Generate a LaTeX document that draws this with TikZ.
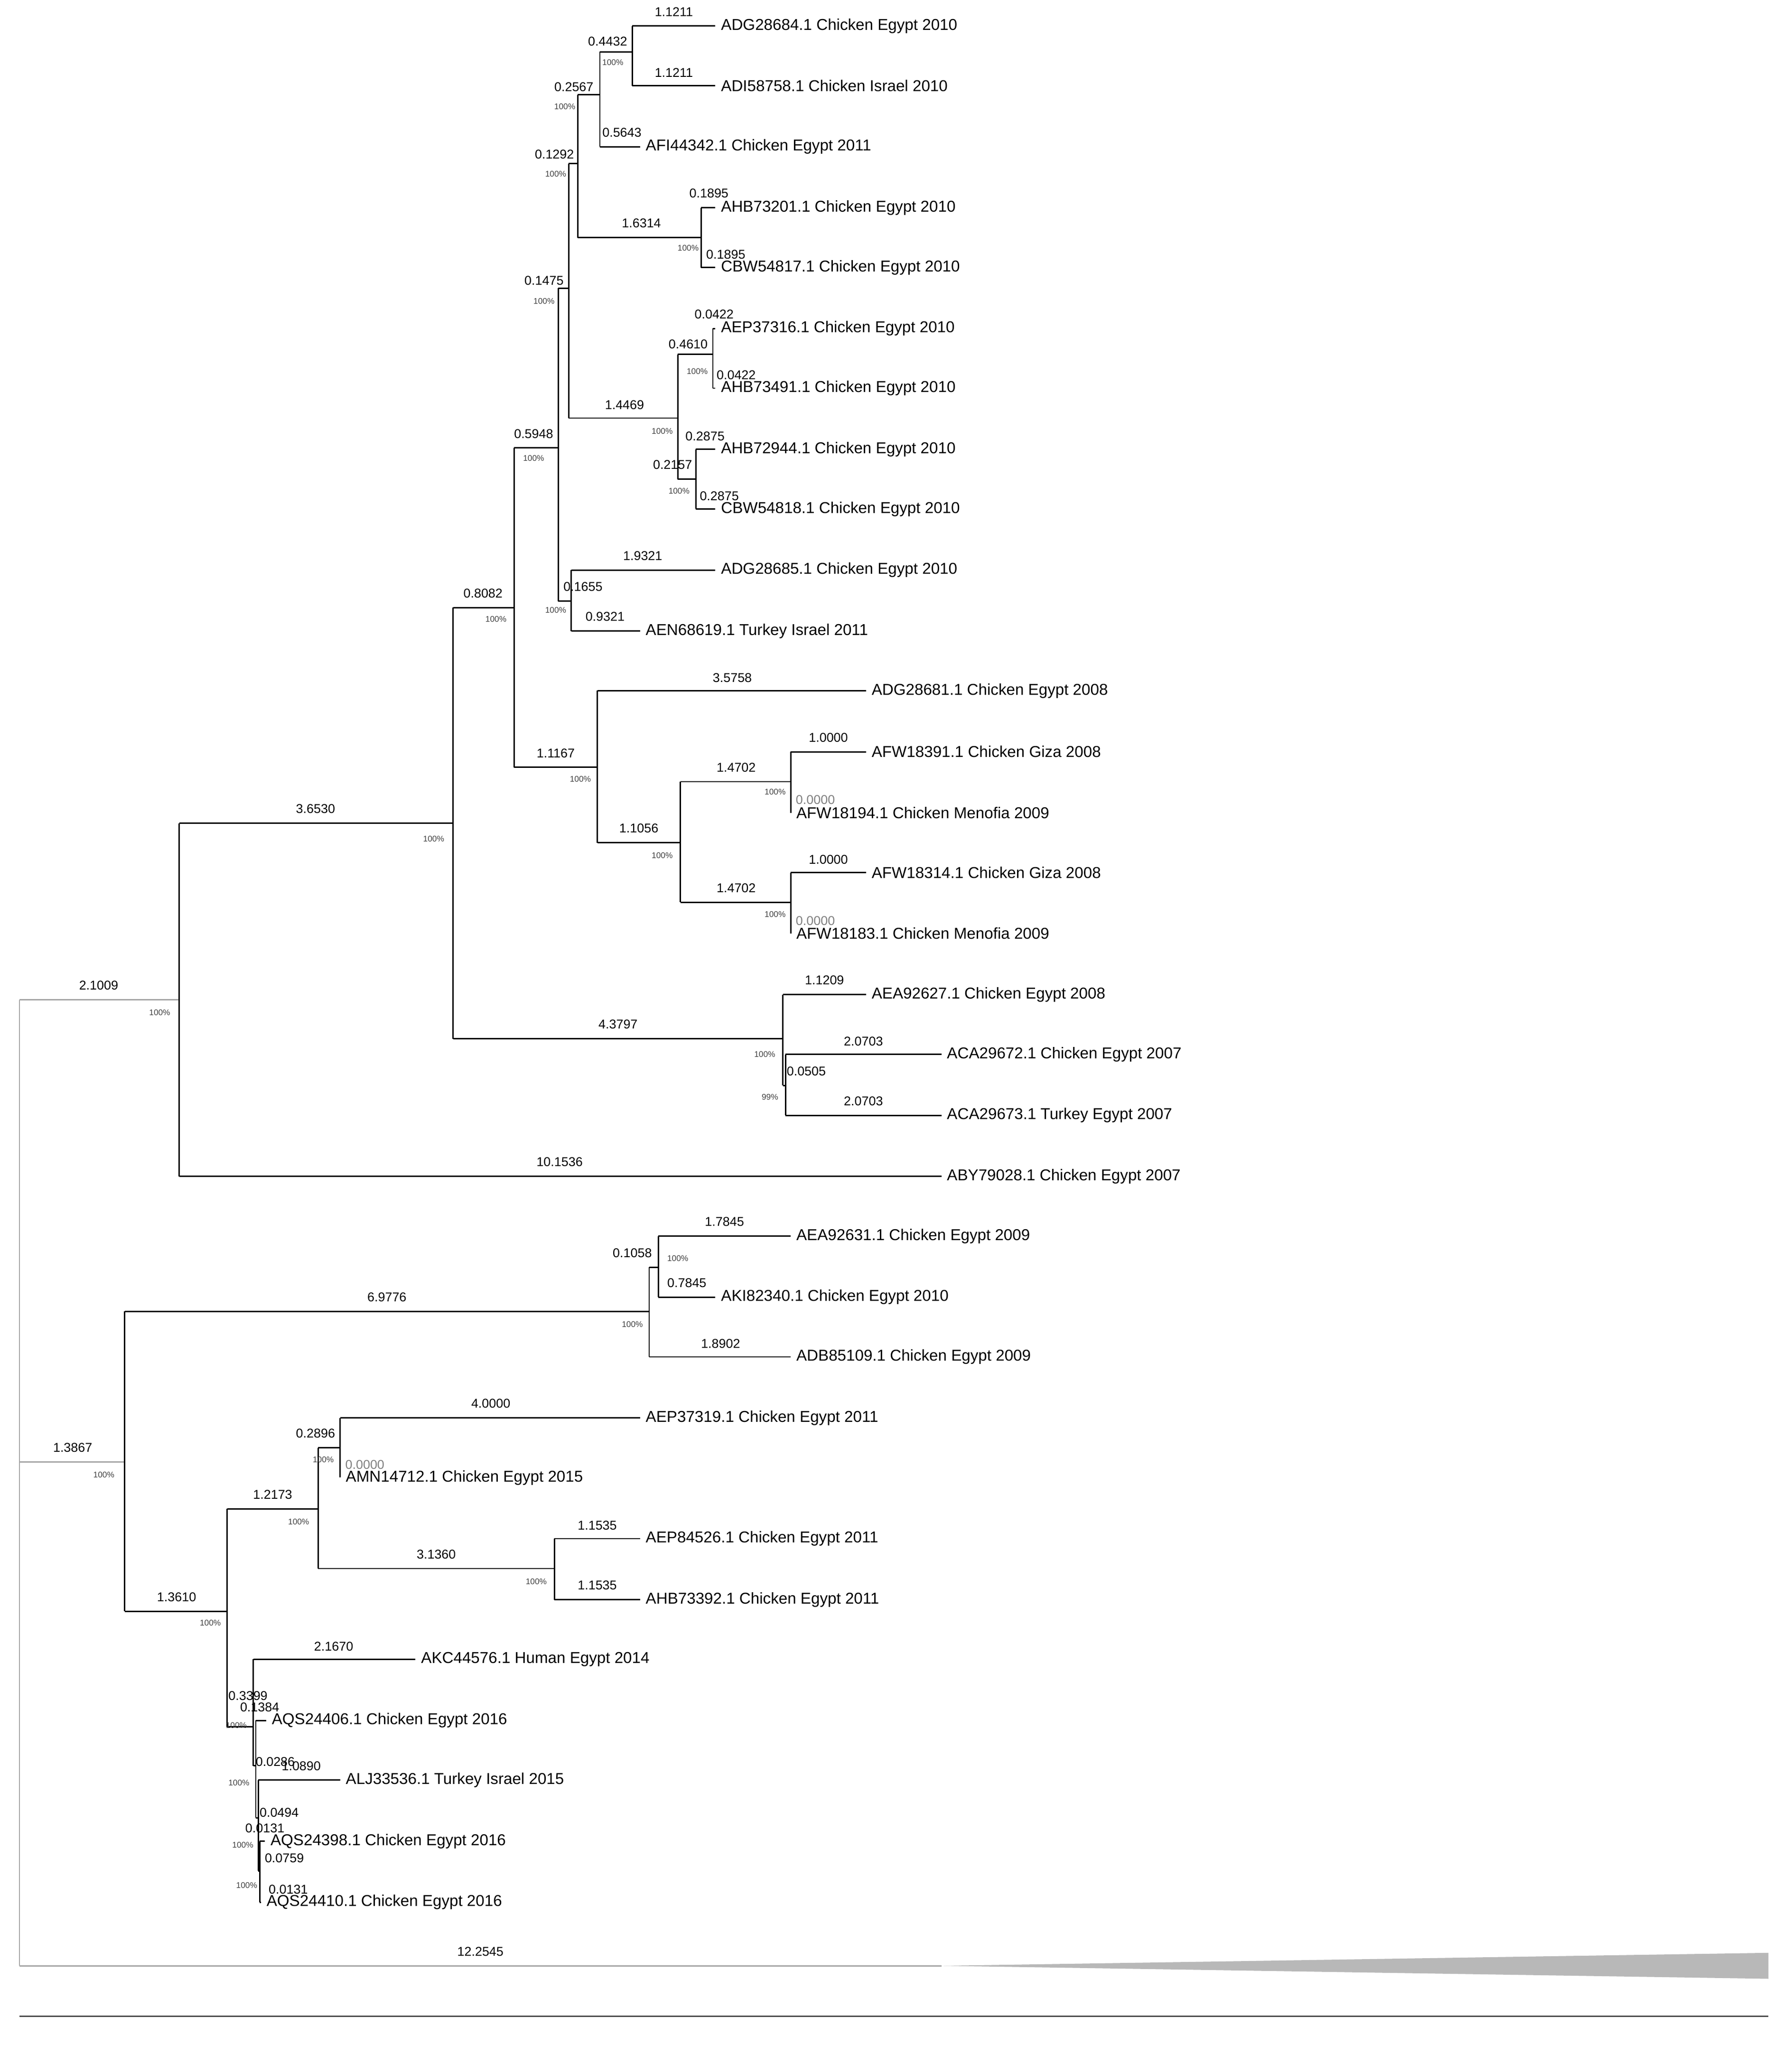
\documentclass[tikz,border=0pt]{standalone}
\usepackage{fontspec}
\setmainfont{Liberation Sans}
\begin{document}
\begin{tikzpicture}[x=0.02cm,y=-0.02cm,
  br/.style={line width=0.6pt,black},
  gbr/.style={line width=0.6pt,black!35},
  bl/.style={font=\fontsize{5.6}{6}\selectfont,inner sep=0pt},
  lf/.style={font=\fontsize{6.9}{8}\selectfont,inner sep=0pt,anchor=west},
  pc/.style={font=\fontsize{3.6}{4}\selectfont,inner sep=0pt,text=black!75}]
\useasboundingbox (0,0) rectangle (1380,1575);
% root
\draw[gbr] (15,770)--(15,1514);
\draw[gbr] (15,770)--(138,770);
\draw[gbr] (15,1126)--(96,1126);
\draw[gbr] (15,1514)--(725,1514);
\node[bl] at (76,759) {2.1009};
\node[bl] at (56,1115) {1.3867};
\node[bl] at (370,1503) {12.2545};
\fill[black!28] (725,1514)--(1362,1504)--(1362,1524)--cycle;
\draw[line width=0.6pt,black!70] (15,1553)--(1362,1553);
% verticals
\foreach \x/\a/\b in {138/634/906,349/468/800,396/345/591,430/222/463,440/439/486,438/126/322,445/73/183,462/40/113,487/20/66,540/160/206,522/273/369,549/253/299,536/346/392,460/532/649,524/602/695,609/579/626,609/672/719,603/766/836,605/812/859,96/1010/1241,500/976/1045,507/952/999,175/1162/1330,245/1115/1208,262/1092/1138,427/1185/1232,195/1278/1360,197/1325/1400,199/1371/1441,200/1418/1465}
  \draw[br] (\x,\a)--(\x,\b);
% internal branches: x1/x2/y/lx/ly/label
\foreach \p/\q/\y/\lx/\ly/\t in {138/349/634/243/623/3.6530,349/396/468/372/457/0.8082,349/603/800/476/789/4.3797,396/430/345/411/334/0.5948,396/460/591/428/580/1.1167,430/438/222/419/216/0.1475,430/440/463/449/452/0.1655,438/445/126/427/119/0.1292,438/522/322/481/312/1.4469,445/462/73/442/67/0.2567,445/540/183/494/172/1.6314,462/487/40/468/32/0.4432,522/549/273/530/265/0.4610,522/536/369/518/358/0.2157,460/524/649/492/638/1.1056,524/609/602/567/591/1.4702,524/609/695/567/684/1.4702,603/605/836/621/825/0.0505,96/500/1010/298/999/6.9776,96/175/1241/136/1230/1.3610,500/507/976/487/965/0.1058,175/245/1162/210/1151/1.2173,175/195/1330/191/1306/0.3399,245/262/1115/243/1104/0.2896,245/427/1208/336/1197/3.1360,195/197/1360/212/1357/0.0286,197/199/1400/215/1396/0.0494,199/200/1441/204/1408/0.0131}
  {\draw[br] (\p,\y)--(\q,\y); \node[bl] at (\lx,\ly) {\t};}
% leaves: x1/x2/y/lx/ly/label/text
\foreach \p/\q/\y/\lx/\ly/\t/\n in {138/725/906/431/895/10.1536/ABY79028.1 Chicken Egypt 2007,440/551/439/495/428/1.9321/ADG28685.1 Chicken Egypt 2010,440/493/486/466/475/0.9321/AEN68619.1 Turkey Israel 2011,462/493/113/479/102/0.5643/AFI44342.1 Chicken Egypt 2011,487/551/20/519/9/1.1211/ADG28684.1 Chicken Egypt 2010,487/551/66/519/56/1.1211/ADI58758.1 Chicken Israel 2010,540/551/160/546/149/0.1895/AHB73201.1 Chicken Egypt 2010,540/551/206/559/196/0.1895/CBW54817.1 Chicken Egypt 2010,549/551/253/550/242/0.0422/AEP37316.1 Chicken Egypt 2010,549/551/299/567/289/0.0422/AHB73491.1 Chicken Egypt 2010,536/551/346/543/336/0.2875/AHB72944.1 Chicken Egypt 2010,536/551/392/554/382/0.2875/CBW54818.1 Chicken Egypt 2010,460/667/532/564/522/3.5758/ADG28681.1 Chicken Egypt 2008,609/667/579/638/568/1.0000/AFW18391.1 Chicken Giza 2008,609/667/672/638/662/1.0000/AFW18314.1 Chicken Giza 2008,603/667/766/635/755/1.1209/AEA92627.1 Chicken Egypt 2008,605/725/812/665/802/2.0703/ACA29672.1 Chicken Egypt 2007,605/725/859/665/848/2.0703/ACA29673.1 Turkey Egypt 2007,500/609/1045/555/1035/1.8902/ADB85109.1 Chicken Egypt 2009,507/609/952/558/941/1.7845/AEA92631.1 Chicken Egypt 2009,507/551/999/529/988/0.7845/AKI82340.1 Chicken Egypt 2010,262/493/1092/378/1081/4.0000/AEP37319.1 Chicken Egypt 2011,427/493/1185/460/1175/1.1535/AEP84526.1 Chicken Egypt 2011,427/493/1232/460/1221/1.1535/AHB73392.1 Chicken Egypt 2011,195/320/1278/257/1268/2.1670/AKC44576.1 Human Egypt 2014,197/205/1325/200/1315/0.1384/AQS24406.1 Chicken Egypt 2016,199/262/1371/232/1360/1.0890/ALJ33536.1 Turkey Israel 2015,200/204/1418/219/1431/0.0759/AQS24398.1 Chicken Egypt 2016,200/201/1465/222/1455/0.0131/AQS24410.1 Chicken Egypt 2016}
  {\draw[br] (\p,\y)--(\q,\y); \node[bl] at (\lx,\ly) {\t}; \node[lf] at (\q+4,\y) {\n};}
% zero-length leaves
\foreach \x/\y/\n in {609/626/AFW18194.1 Chicken Menofia 2009,609/719/AFW18183.1 Chicken Menofia 2009,262/1138/AMN14712.1 Chicken Egypt 2015}
  {\node[bl,text=black!50] at (\x+19,\y-10) {0.0000}; \node[lf] at (\x+4,\y) {\n};}
% bootstrap
\foreach \x/\y in {472/48,435/82,428/134,419/232,411/353,382/477,334/646,123/780,530/191,537/286,510/332,523/378,428/470,447/600,597/610,510/659,597/704,589/812,522/969,487/1020,80/1136,249/1124,230/1172,413/1218,162/1250,182/1329,184/1373,187/1421,190/1452}
  \node[pc] at (\x,\y) {100\%};
\node[pc] at (593,845) {99\%};
\end{tikzpicture}
\end{document}
